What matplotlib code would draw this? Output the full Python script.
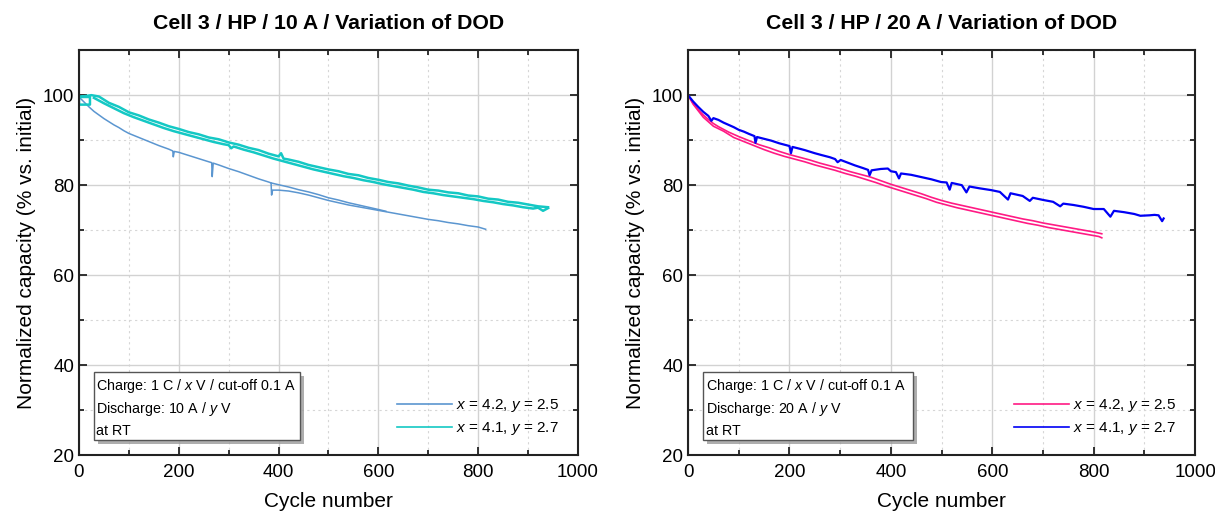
import matplotlib
matplotlib.use("Agg")
import matplotlib.pyplot as plt
import matplotlib.patheffects as pe
from matplotlib.patches import Rectangle
from matplotlib.ticker import MultipleLocator

plt.rcParams["font.family"] = ["Liberation Sans", "DejaVu Sans"]
plt.rcParams["mathtext.fontset"] = "custom"
plt.rcParams["mathtext.rm"] = "Liberation Sans"
plt.rcParams["mathtext.it"] = "Liberation Sans:italic"

# ---- data (cycle number, normalized capacity in %) ----
# left panel: 10 A discharge, x = 4.2 / y = 2.5 (two overlapping records)
l42_cycles = [0, 10, 20, 30, 40, 50, 60, 70, 80, 90, 100, 120, 140, 160, 180, 188, 189, 191,
              200, 220, 240, 260, 266, 267, 269, 280, 300, 320, 340, 360, 380, 385, 386, 388,
              400, 420, 440, 460, 480, 500, 520, 540, 560, 580, 600, 620, 640, 660, 680, 700,
              720, 740, 760, 780, 800, 815]
l42_vals = [99.6, 98.5, 97.4, 96.4, 95.6, 94.8, 94.1, 93.4, 92.8, 92.1, 91.5, 90.6, 89.7, 88.8,
            88.0, 87.6, 86.3, 87.5, 87.3, 86.6, 85.9, 85.2, 85.0, 81.9, 84.9, 84.5, 83.7, 83.0,
            82.2, 81.4, 80.7, 80.5, 77.8, 78.9, 78.9, 78.7, 78.3, 77.8, 77.2, 76.6, 76.1, 75.6,
            75.2, 74.8, 74.4, 74.0, 73.6, 73.2, 72.8, 72.4, 72.1, 71.7, 71.4, 71.0, 70.7, 70.2]
l42b_cycles = [385, 400, 420, 440, 460, 480, 500, 520, 540, 560, 580, 600, 615]
l42b_vals = [80.5, 80.1, 79.6, 79.0, 78.5, 77.9, 77.2, 76.7, 76.1, 75.6, 75.1, 74.6, 74.2]

# left panel: x = 4.1 / y = 2.7 (two overlapping records)
l41_cycles = [0, 22, 22, 0, 0, 25, 40, 60, 80, 100, 120, 140, 160, 180, 200, 220, 240, 260,
              280, 300, 320, 340, 360, 380, 400, 405, 410, 420, 440, 460, 480, 500, 520, 540,
              560, 580, 600, 620, 640, 660, 680, 700, 720, 740, 760, 780, 800, 820, 840, 860,
              880, 900, 920, 940]
l41_vals = [99.6, 99.6, 97.9, 97.9, 99.6, 100.0, 99.7, 98.3, 97.4, 96.2, 95.5, 94.6, 93.9,
            93.1, 92.5, 91.8, 91.3, 90.6, 90.2, 89.5, 89.0, 88.3, 87.8, 87.0, 86.4, 87.1, 85.9,
            85.7, 85.2, 84.5, 84.0, 83.5, 83.1, 82.5, 82.2, 81.6, 81.2, 80.7, 80.4, 79.9, 79.5,
            79.0, 78.8, 78.4, 78.2, 77.7, 77.5, 77.0, 76.8, 76.3, 76.1, 75.7, 75.3, 75.1]
l41b_cycles = [30, 50, 70, 90, 110, 130, 150, 170, 190, 210, 230, 250, 270, 290, 300, 305,
               310, 330, 350, 370, 390, 410, 430, 450, 470, 490, 510, 530, 550, 570, 590, 610,
               630, 650, 670, 690, 710, 730, 750, 770, 790, 810, 830, 850, 870, 890, 910, 920,
               930, 940]
l41b_vals = [99.4, 98.2, 97.1, 96.0, 95.1, 94.3, 93.5, 92.7, 92.0, 91.4, 90.8, 90.2, 89.6,
             89.1, 88.9, 88.2, 88.6, 87.9, 87.3, 86.6, 85.9, 85.3, 84.7, 84.1, 83.5, 83.0,
             82.5, 82.0, 81.6, 81.1, 80.7, 80.2, 79.8, 79.4, 79.0, 78.5, 78.2, 77.8, 77.5,
             77.2, 76.9, 76.5, 76.2, 75.8, 75.5, 75.1, 74.8, 75.0, 74.3, 74.9]

# right panel: 20 A discharge, x = 4.2 / y = 2.5 (two parallel records)
r42_cycles = [0, 10, 20, 30, 40, 50, 60, 80, 100, 120, 140, 160, 180, 200, 220, 240, 260, 280,
              300, 320, 340, 360, 380, 400, 420, 440, 460, 480, 500, 520, 540, 560, 580, 600,
              620, 640, 660, 680, 700, 720, 740, 760, 780, 800, 816]
r42_vals = [100.0, 98.2, 96.8, 95.6, 94.6, 93.7, 93.0, 91.8, 90.8, 89.9, 89.0, 88.3, 87.5,
            86.8, 86.2, 85.6, 84.9, 84.3, 83.7, 83.0, 82.4, 81.8, 81.0, 80.2, 79.5, 78.8, 78.1,
            77.3, 76.6, 76.0, 75.5, 75.0, 74.5, 74.0, 73.5, 73.0, 72.5, 72.1, 71.6, 71.2, 70.8,
            70.4, 70.0, 69.6, 69.2]
r42b_cycles = [0, 10, 30, 50, 70, 90, 110, 130, 150, 170, 190, 210, 230, 250, 270, 290, 310,
               330, 350, 370, 390, 410, 430, 450, 470, 490, 510, 530, 550, 570, 590, 610, 630,
               650, 670, 690, 710, 730, 750, 770, 790, 810, 816]
r42b_vals = [100.0, 98.0, 95.1, 93.1, 92.0, 90.6, 89.7, 88.8, 87.9, 87.1, 86.4, 85.8, 85.2,
             84.5, 83.9, 83.3, 82.6, 82.0, 81.3, 80.6, 79.8, 79.1, 78.4, 77.7, 77.0, 76.2, 75.6,
             75.0, 74.5, 74.0, 73.5, 73.0, 72.5, 72.0, 71.5, 71.1, 70.6, 70.2, 69.8, 69.4, 69.0,
             68.6, 68.3]

# right panel: x = 4.1 / y = 2.7
r41_cycles = [0, 10, 20, 30, 40, 46, 50, 60, 70, 80, 90, 100, 110, 120, 131, 133, 136, 150,
              164, 180, 190, 200, 203, 206, 220, 230, 250, 263, 280, 290, 295, 301, 315, 329,
              345, 355, 358, 362, 380, 394, 400, 410, 416, 420, 440, 460, 480, 499, 510, 516,
              520, 540, 549, 555, 575, 598, 615, 631, 636, 660, 674, 680, 701, 720, 734, 740,
              760, 780, 800, 820, 833, 840, 860, 880, 892, 910, 920, 928, 935, 938]
r41_vals = [100.0, 98.6, 97.4, 96.3, 95.4, 94.3, 94.9, 94.5, 93.9, 93.4, 92.9, 92.3, 91.9,
            91.4, 90.9, 89.4, 90.7, 90.3, 89.9, 89.3, 89.0, 88.7, 87.1, 88.5, 88.1, 87.8, 87.1,
            86.7, 86.2, 85.8, 85.1, 85.6, 85.0, 84.4, 83.8, 83.4, 82.2, 83.3, 83.6, 83.7, 83.1,
            82.9, 81.5, 82.6, 82.3, 81.8, 81.3, 80.7, 80.6, 79.0, 80.5, 80.0, 78.4, 79.7, 79.3,
            78.9, 78.5, 76.8, 78.2, 77.6, 76.5, 77.2, 76.7, 76.3, 75.3, 75.9, 75.6, 75.2, 74.7,
            74.7, 73.0, 74.3, 74.0, 73.6, 73.2, 73.3, 73.4, 73.3, 72.0, 72.6]

titles = ["Cell 3 / HP / 10 A / Variation of DOD", "Cell 3 / HP / 20 A / Variation of DOD"]
currents = ["10 A", "20 A"]
labels = [r"$x$ = 4.2, $y$ = 2.5", r"$x$ = 4.1, $y$ = 2.7"]

fig = plt.figure(figsize=(12.15, 5.12), dpi=100)
ax1 = fig.add_axes([0.065, 0.111, 0.4107, 0.791])
ax2 = fig.add_axes([0.5663, 0.111, 0.4173, 0.791])


def style_axes(ax, title, current):
    ax.set_xlim(0, 1000)
    ax.set_ylim(20, 110)
    ax.xaxis.set_major_locator(MultipleLocator(200))
    ax.xaxis.set_minor_locator(MultipleLocator(100))
    ax.yaxis.set_major_locator(MultipleLocator(20))
    ax.yaxis.set_minor_locator(MultipleLocator(10))
    ax.grid(which="major", color="#d2d2d2", linewidth=1.0, linestyle="-")
    ax.grid(which="minor", color="#d6d6d6", linewidth=0.8, linestyle=(0, (2, 3)))
    ax.set_axisbelow(True)
    ax.tick_params(which="both", direction="in", top=True, right=True, labelsize=13.5,
                   width=1.3, color="#222222")
    ax.tick_params(which="major", length=6)
    ax.tick_params(which="minor", length=3.5)
    ax.tick_params(axis="x", pad=6)
    for s in ax.spines.values():
        s.set_linewidth(1.5)
        s.set_color("#222222")
    ax.set_title(title, fontsize=15.3, fontweight="bold", pad=15)
    ax.set_xlabel("Cycle number", fontsize=15, labelpad=8)
    ax.set_ylabel("Normalized capacity (% vs. initial)", fontsize=15, labelpad=5)

    # condition box with drop shadow
    box = Rectangle((0.030, 0.037), 0.413, 0.168, transform=ax.transAxes,
                    facecolor="white", edgecolor="#555555", linewidth=1.0, zorder=5)
    box.set_path_effects([
        pe.SimplePatchShadow(offset=(3, -3), shadow_rgbFace="#9a9a9a", alpha=0.8),
        pe.Normal()])
    ax.add_patch(box)
    lines = ["Charge: 1 C / $x$ V / cut-off 0.1 A",
             "Discharge: " + current + " / $y$ V",
             "at RT"]
    for txt, yb in zip(lines, [0.162, 0.105, 0.049]):
        ax.text(0.035, yb, txt, transform=ax.transAxes, fontsize=10.3,
                va="baseline", ha="left", zorder=6)

    leg = ax.legend(loc="lower right", bbox_to_anchor=(0.99, 0.01), frameon=False,
                    fontsize=11, handlelength=3.6, handletextpad=0.3, labelspacing=0.4)
    for h in leg.get_lines():
        h.set_linewidth(1.2)


# left panel
ax1.plot(l42b_cycles, l42b_vals, color="#5b96d0", linewidth=1.1)
ax1.plot(l42_cycles, l42_vals, color="#5b96d0", linewidth=1.1, label=labels[0])
ax1.plot(l41b_cycles, l41b_vals, color="#14c8c4", linewidth=1.8)
ax1.plot(l41_cycles, l41_vals, color="#14c8c4", linewidth=1.8, label=labels[1])
style_axes(ax1, titles[0], currents[0])

# right panel
ax2.plot(r42b_cycles, r42b_vals, color="#ff1a84", linewidth=1.2)
ax2.plot(r42_cycles, r42_vals, color="#ff1a84", linewidth=1.2, label=labels[0])
ax2.plot(r41_cycles, r41_vals, color="#0000f5", linewidth=1.6, label=labels[1])
style_axes(ax2, titles[1], currents[1])

fig.savefig("out.png", dpi=100)
